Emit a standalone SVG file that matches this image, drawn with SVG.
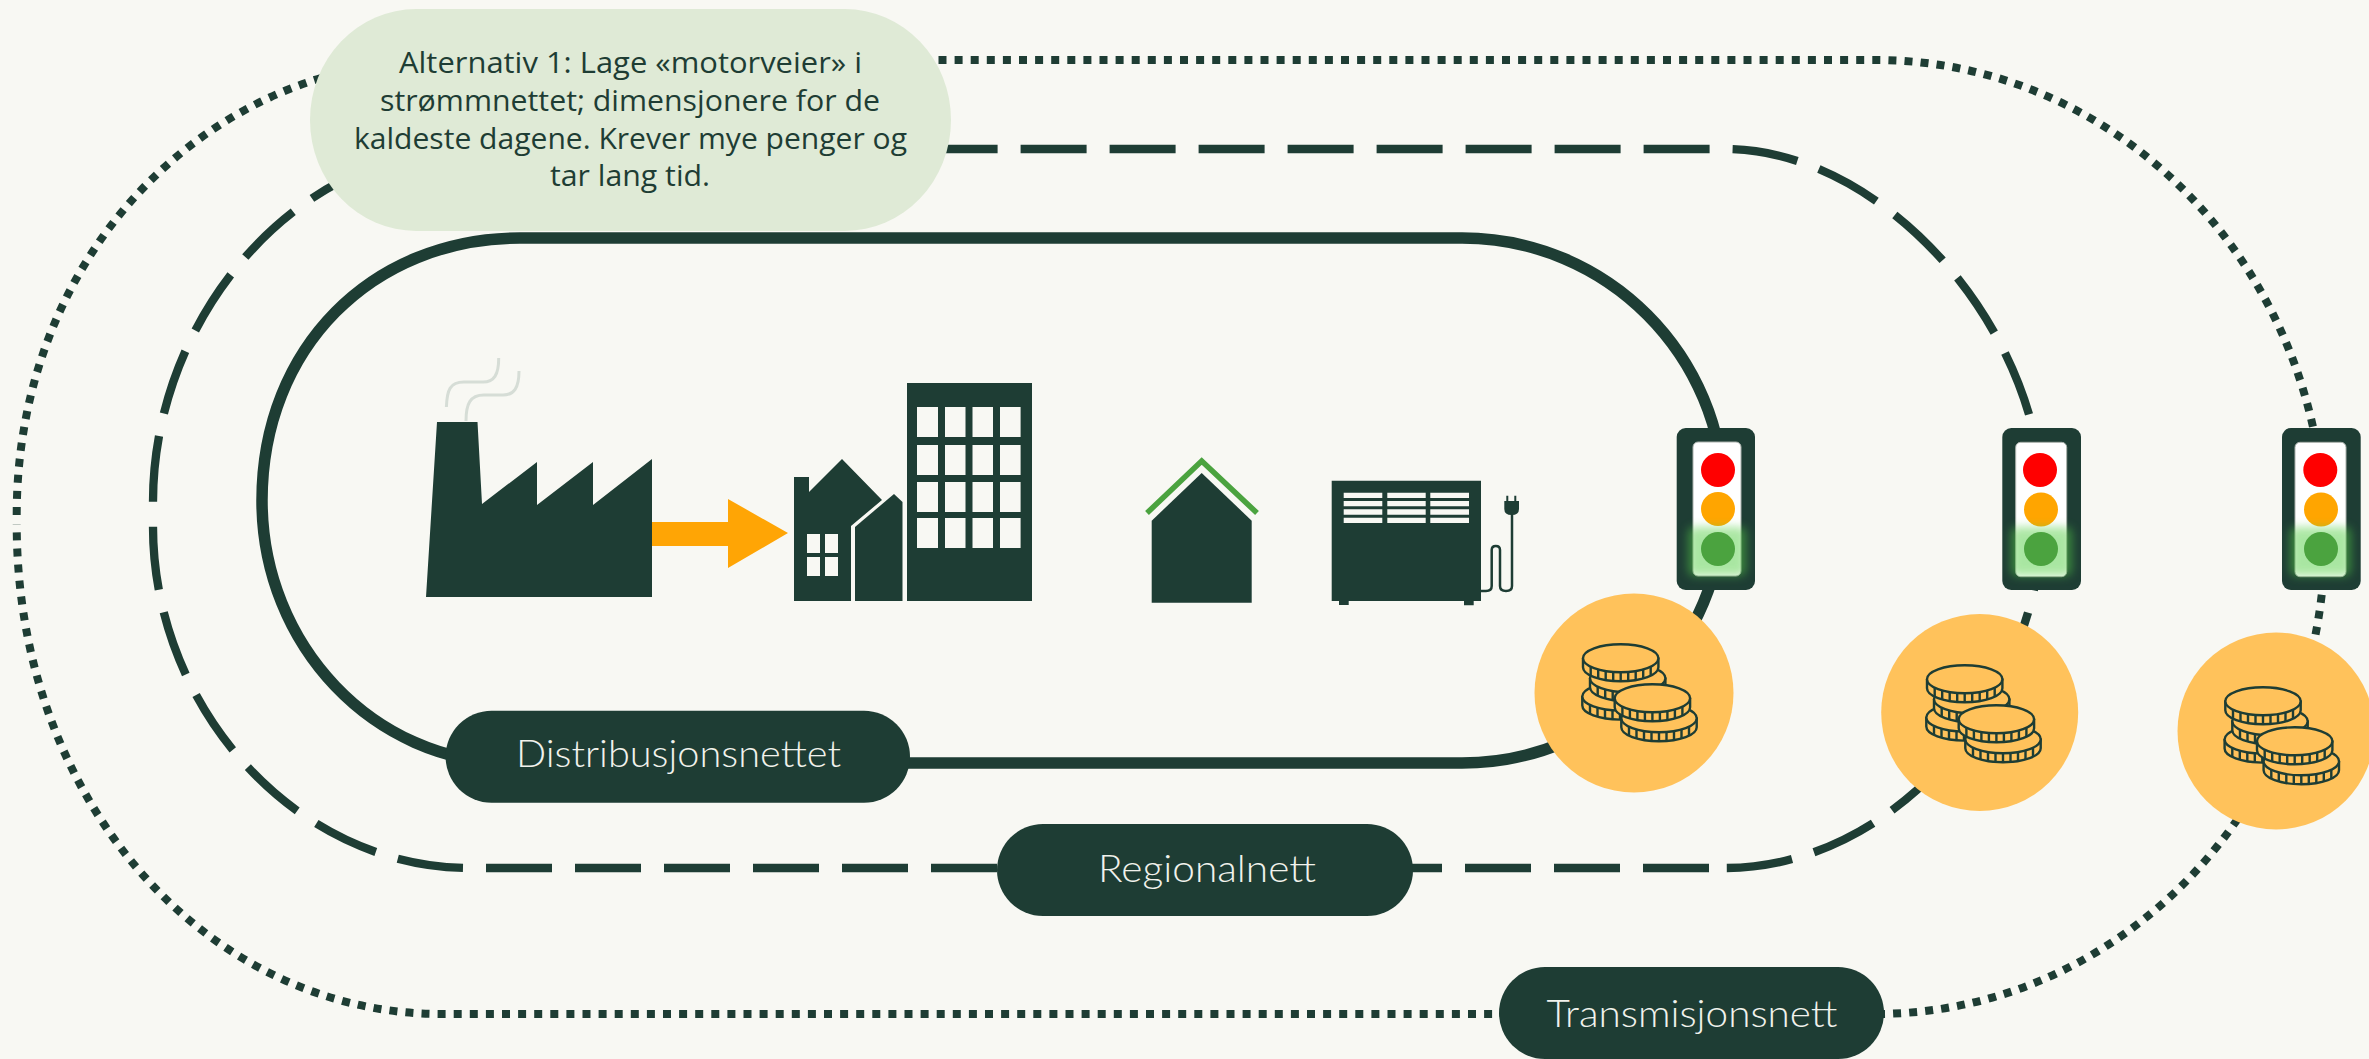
<svg xmlns="http://www.w3.org/2000/svg" xmlns:xlink="http://www.w3.org/1999/xlink" width="2369" height="1059" viewBox="0 0 2369 1059">
<style>
.d{fill:#1e3d34}
.w{fill:#f8f8f3}
.track{fill:none;stroke:#1e3d34}
.lbl{font-family:"Lato","Liberation Sans",sans-serif;font-weight:300;font-size:37px;fill:#f1f2ec}
.alt{font-family:"Open Sans","Liberation Sans",sans-serif;font-size:29px;fill:#1e3d34;text-anchor:middle}
.coin{fill:#ffc25b;stroke:#1e3d34;stroke-width:2.4;stroke-linejoin:round}
.frame{fill:#1e3d34}
.win{fill:#fff;stroke:#a9b0ab;stroke-width:1}
.smoke{fill:none;stroke:#d6ddd6;stroke-width:3}
</style>
<defs>
<filter id="blur" x="-30%" y="-30%" width="160%" height="160%"><feGaussianBlur stdDeviation="5"/></filter>
<g id="c">
<path class="coin" d="M-37.7 0v9A37.7 14 0 0 0 37.7 9V0Z"/>
<ellipse class="coin" rx="37.7" ry="14"/>
<path fill="none" stroke="#1e3d34" stroke-width="2.4" d="M-30 8.5v9M-22.5 11.2v9.300M-15 12.800v9.200M-7.500 13.700v9.300M0 14v9M7.500 13.700v9.300M15 12.800v9.200M22.500 11.200v9.300M30 8.500v9"/>
</g>
<g id="coins">
<use href="#c" x="-0.7" y="38.3"/>
<use href="#c" x="7" y="20"/>
<use href="#c"/>
<use href="#c" x="38.300" y="60"/>
<use href="#c" x="31.700" y="40"/>
</g>
</defs>
<rect width="2369" height="1059" class="w"/>
<g id="connectors">
<path id="track-distribusjon" class="track" stroke-width="11.500" d="M262 500.500C262 348 372 238 520 238H1462C1607 238 1724 355.500 1724 500.500C1724 645.500 1607 763 1462 763H512C374 763 262 645.500 262 500.500Z"/>
<path id="track-regional" class="track" stroke-width="8.300" stroke-dasharray="66 23" d="M153 501.700C153 318 295 149 470 149H500M931.600 149H1725C1884 149 2043 329 2043 508.500C2043 699 1893.500 868 1725 868M1709 868H470C295 868 153 707 153 526.700"/>
<path id="track-transmisjon" class="track" stroke-width="8" stroke-dasharray="8 8.100" d="M16.700 515C16.700 256 206 60 442 60H460M938.500 60H1875C2123 60 2325 273 2325 537C2325 800 2123 1014 1875 1014M1508.200 1014H442C206 1014 16.700 800 16.700 524"/>
</g>
<g id="pill-alternativ">
<rect x="310" y="9" width="641" height="222" rx="106" ry="111" fill="#dfead6"/>
<text class="alt" x="630.500" y="73" textLength="463" lengthAdjust="spacingAndGlyphs">Alternativ 1: Lage «motorveier» i</text>
<text class="alt" x="630" y="111" textLength="500" lengthAdjust="spacingAndGlyphs">strømmnettet; dimensjonere for de</text>
<text class="alt" x="630.500" y="149" textLength="553" lengthAdjust="spacingAndGlyphs">kaldeste dagene. Krever mye penger og</text>
<text class="alt" x="630" y="186" textLength="160" lengthAdjust="spacingAndGlyphs">tar lang tid.</text>
</g>
<g id="factory">
<path class="smoke" d="M446.400 407C447 390 450 382 464 382H483C494 382 498.700 375 498.700 358"/>
<path class="smoke" d="M466 421C466 404 470 395 484 395H503C514 395 519 388 519 371"/>
<path class="d" d="M426 597L437 422H477.500L482 504L537 462V505L593 462V505L652 459V597Z"/>
</g>
<path id="arrow" fill="#ffa505" d="M652 522H728V499L788 533L728 568V546H652Z"/>
<g id="buildings">
<path class="d" d="M794 601V477H809V492L842 459L882 500L851 526V601Z"/>
<path class="d" d="M855 601V527L894 494L902.500 502V601Z"/>
<path class="w" d="M807 534h13v19h-13zM825 534h13v19h-13zM807 557h13v19h-13zM825 557h13v19h-13z"/>
<path class="d" d="M907 383H1032V601H907Z"/>
<path class="w" d="M917 407h21v30h-21zM945 407h20.500v30h-20.500zM972.500 407h20.500v30h-20.500zM1000 407h20.600v30h-20.600zM917 445h21v30h-21zM945 445h20.500v30h-20.500zM972.500 445h20.500v30h-20.500zM1000 445h20.600v30h-20.600zM917 482h21v30h-21zM945 482h20.500v30h-20.500zM972.500 482h20.500v30h-20.500zM1000 482h20.600v30h-20.600zM917 518h21v30h-21zM945 518h20.500v30h-20.500zM972.500 518h20.500v30h-20.500zM1000 518h20.600v30h-20.600z"/>
</g>
<g id="house">
<path class="d" d="M1151.700 602.700V520.700L1201.700 473L1251.700 520.700V602.700Z"/>
<path fill="none" stroke="#4ba33f" stroke-width="5.500" d="M1147 513L1201.700 461L1257 513"/>
</g>
<g id="heater">
<path class="d" d="M1331.700 480.700H1481V601H1473.700V605.300H1464V601H1348.700V605H1339V601H1331.700Z"/>
<path class="w" d="M1343.700 492.700h38.600v5.300h-38.600zM1387.300 492.700h38.400v5.300h-38.400zM1430.300 492.700h38.700v5.300h-38.700zM1343.700 501h38.600v5.300h-38.600zM1387.300 501h38.400v5.300h-38.400zM1430.300 501h38.700v5.300h-38.700zM1343.700 509.300h38.600v5.400h-38.600zM1387.300 509.300h38.400v5.400h-38.400zM1430.300 509.300h38.700v5.400h-38.700zM1343.700 517.700h38.600v5.300h-38.600zM1387.300 517.700h38.400v5.300h-38.400zM1430.300 517.700h38.700v5.300h-38.700z"/>
<path fill="none" stroke="#1e3d34" stroke-width="2.500" d="M1481 591H1486Q1491.700 591 1491.700 586V550Q1491.700 546 1495.800 546Q1500 546 1500 550V586Q1500 591 1506 591Q1512 591 1512 586V513"/>
<path class="d" d="M1504.300 501H1506.300V495.700H1508.300V501H1514.300V495.700H1516.300V501H1519V509Q1519 515 1511.700 515Q1504.300 515 1504.300 509Z"/>
</g>
<g id="light-1">
<rect class="frame" x="1676.700" y="428" width="78.300" height="162" rx="9"/>
<rect class="win" x="1693" y="442" width="48" height="134" rx="5"/>
<circle cx="1718" cy="470" r="17" fill="#ff0000"/>
<circle cx="1718" cy="509" r="17" fill="#ffa500"/>
<rect x="1688" y="527" width="58" height="49" rx="6" fill="#56cf47" opacity=".5" filter="url(#blur)"/>
<circle cx="1718" cy="549" r="17" fill="#4ba33f"/>
</g>
<g id="light-2">
<rect class="frame" x="2002.300" y="428" width="78.700" height="162" rx="9"/>
<rect class="win" x="2015.700" y="442.300" width="51" height="134.400" rx="5"/>
<circle cx="2040" cy="470" r="17" fill="#ff0000"/>
<circle cx="2041" cy="509.500" r="17" fill="#ffa500"/>
<rect x="2011" y="527" width="61" height="49" rx="6" fill="#56cf47" opacity=".5" filter="url(#blur)"/>
<circle cx="2041" cy="549" r="17" fill="#4ba33f"/>
</g>
<g id="light-3">
<rect class="frame" x="2282" y="428" width="78.700" height="162" rx="9"/>
<rect class="win" x="2295" y="442.300" width="51" height="134.400" rx="5"/>
<circle cx="2320.300" cy="470" r="17" fill="#ff0000"/>
<circle cx="2321" cy="509.500" r="17" fill="#ffa500"/>
<rect x="2290" y="527" width="61" height="49" rx="6" fill="#56cf47" opacity=".5" filter="url(#blur)"/>
<circle cx="2321" cy="549" r="17" fill="#4ba33f"/>
</g>
<g id="cost-1">
<circle cx="1634" cy="693" r="99.500" fill="#ffc25b"/>
<use href="#coins" x="1620.700" y="658.300"/>
</g>
<g id="cost-2">
<circle cx="1979.700" cy="712.500" r="98.500" fill="#ffc25b"/>
<use href="#coins" x="1964.700" y="679.300"/>
</g>
<g id="cost-3">
<circle cx="2276" cy="731" r="98.500" fill="#ffc25b"/>
<use href="#coins" x="2263" y="701.300"/>
</g>
<g id="label-distribusjon">
<rect class="d" x="445.600" y="710.700" width="464.400" height="92" rx="46"/>
<text class="lbl" x="516" y="767" textLength="325" lengthAdjust="spacingAndGlyphs">Distribusjonsnettet</text>
</g>
<g id="label-regional">
<rect class="d" x="997" y="824" width="416" height="92" rx="46"/>
<text class="lbl" x="1098" y="882" textLength="218" lengthAdjust="spacingAndGlyphs">Regionalnett</text>
</g>
<g id="label-transmisjon">
<rect class="d" x="1499" y="967" width="385" height="92" rx="46"/>
<text class="lbl" x="1546.500" y="1027" textLength="291" lengthAdjust="spacingAndGlyphs">Transmisjonsnett</text>
</g>
</svg>
